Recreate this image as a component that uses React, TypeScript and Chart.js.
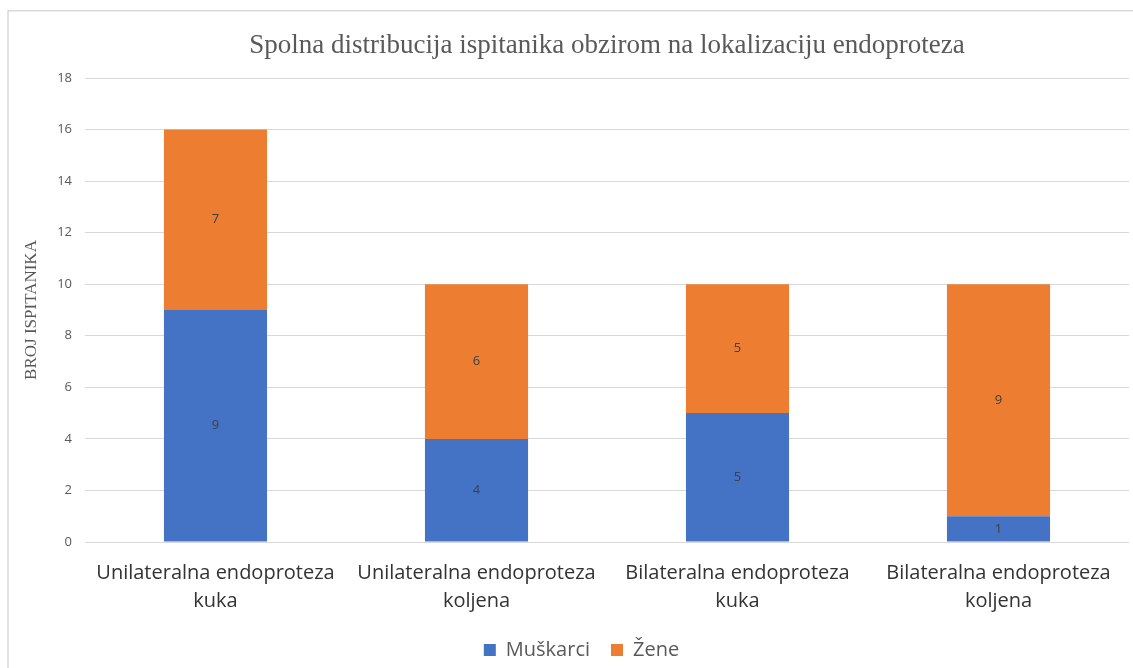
import React, { useEffect, useRef } from "react";
import { Chart, registerables } from "chart.js";

Chart.register(...registerables);

const categories: string[][] = [
  ["Unilateralna endoproteza", "kuka"],
  ["Unilateralna endoproteza", "koljena"],
  ["Bilateralna endoproteza", "kuka"],
  ["Bilateralna endoproteza", "koljena"],
];
const muskarci: number[] = [9, 4, 5, 1];
const zene: number[] = [7, 6, 5, 9];
const seriesNames: string[] = ["Muškarci", "Žene"];
const titleText = "Spolna distribucija ispitanika obzirom na lokalizaciju endoproteza";
const yAxisTitle = "BROJ ISPITANIKA";

const frameBorder = {
  id: "frameBorder",
  beforeDraw(chart: any) {
    const ctx = chart.ctx;
    ctx.save();
    ctx.strokeStyle = "#d9d9d9";
    ctx.lineWidth = 1.5;
    ctx.beginPath();
    ctx.moveTo(8, chart.height);
    ctx.lineTo(8, 10.75);
    ctx.lineTo(chart.width, 10.75);
    ctx.stroke();
    ctx.restore();
  },
};

const segmentLabels = {
  id: "segmentLabels",
  afterDatasetsDraw(chart: any) {
    const ctx = chart.ctx;
    ctx.save();
    ctx.font = "13px 'Open Sans'";
    ctx.fillStyle = "#404040";
    ctx.textAlign = "center";
    ctx.textBaseline = "middle";
    chart.data.datasets.forEach((ds: any, di: number) => {
      const meta = chart.getDatasetMeta(di);
      meta.data.forEach((el: any, i: number) => {
        const v = ds.data[i];
        const cy = (el.y + el.base) / 2;
        ctx.fillText(String(v), el.x, cy);
      });
    });
    ctx.restore();
  },
};

export default function App() {
  const canvasRef = useRef<HTMLCanvasElement | null>(null);

  useEffect(() => {
    if (!canvasRef.current) return;
    const chart = new Chart(canvasRef.current, {
      type: "bar",
      data: {
        labels: categories,
        datasets: [
          {
            label: seriesNames[0],
            data: muskarci,
            backgroundColor: "#4472C4",
            borderWidth: 0,
            barPercentage: 0.395,
            categoryPercentage: 1,
          },
          {
            label: seriesNames[1],
            data: zene,
            backgroundColor: "#ED7D31",
            borderWidth: 0,
            barPercentage: 0.395,
            categoryPercentage: 1,
          },
        ],
      },
      options: {
        animation: false,
        responsive: true,
        maintainAspectRatio: false,
        layout: { padding: { top: 0, left: 34, right: 4, bottom: -2 } },
        plugins: {
          title: {
            display: true,
            text: titleText,
            fullSize: false,
            color: "#595959",
            font: { family: "'Liberation Serif', 'Times New Roman', serif", size: 27, weight: "normal", lineHeight: 1.2 },
            padding: { top: 29.3, bottom: 16.3 },
          },
          legend: {
            display: true,
            position: "bottom",
            labels: {
              boxWidth: 12,
              boxHeight: 12,
              padding: 21,
              color: "#595959",
              font: { family: "'Open Sans'", size: 20 },
            },
          },
          tooltip: { enabled: false },
        },
        scales: {
          x: {
            stacked: true,
            grid: { display: false, drawTicks: false },
            border: { display: false },
            ticks: {
              color: "#333333",
              padding: 17.5,
              maxRotation: 0,
              font: { family: "'Open Sans'", size: 20, lineHeight: 1.38 },
            },
            afterFit: (s: any) => {
              s.height = 77;
            },
          },
          y: {
            stacked: true,
            min: 0,
            max: 18,
            grid: { color: "#d9d9d9", lineWidth: 1, drawTicks: false },
            border: { display: false },
            ticks: {
              stepSize: 2,
              color: "#595959",
              padding: 13,
              font: { family: "'Open Sans'", size: 13 },
            },
            title: {
              display: true,
              text: yAxisTitle,
              color: "#595959",
              font: { family: "'Liberation Serif', 'Times New Roman', serif", size: 17, lineHeight: 1.2 },
              padding: { top: -12.6, bottom: 0 },
            },
            afterFit: (s: any) => {
              s.width = 51;
            },
          },
        },
      },
      plugins: [frameBorder, segmentLabels],
    });
    return () => chart.destroy();
  }, []);

  return (
    <div style={{ position: "fixed", left: 0, top: 0, width: 1133, height: 668, background: "#fff" }}>
      <canvas ref={canvasRef} />
    </div>
  );
}
